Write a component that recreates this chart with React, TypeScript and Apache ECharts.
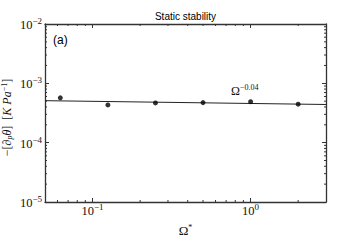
import React, { useEffect, useRef } from "react";
import * as echarts from "echarts";

// Data
const omegaStar = [0.0625, 0.125, 0.25, 0.5, 1, 2];
const stability = [5.7e-4, 4.33e-4, 4.67e-4, 4.73e-4, 4.91e-4, 4.45e-4];
const fitOmega = [0.05, 3];
const fitStability = [5.1e-4, 4.4e-4];
const xRange = [0.05, 3];
const yRange = [1e-5, 1e-2];
const minorMultipliers = [2, 3, 4, 5, 6, 7, 8, 9];
const xDecades = [0.01, 0.1, 1];
const yDecades = [1e-5, 1e-4, 1e-3];
const titleText = "Static stability";
const panelLabel = "(a)";
const fitLabelExp = "−0.04";

const SERIF = "'Liberation Serif', 'DejaVu Serif', serif";
const SANS = "'Liberation Sans', Arial, sans-serif";
const FRAME = "#333";

function isPow10(v: number) {
  const l = Math.log10(v);
  return Math.abs(l - Math.round(l)) < 1e-6;
}
function powLabel(v: number) {
  if (!isPow10(v)) return "";
  const e = Math.round(Math.log10(v));
  return `{b|10}{s|${e < 0 ? "−" + -e : e}}`;
}

const labelRich = {
  b: { fontFamily: SERIF, fontSize: 12.5, lineHeight: 15, verticalAlign: "bottom", color: "#111" },
  s: { fontFamily: SERIF, fontSize: 9, lineHeight: 8, verticalAlign: "top", color: "#111" },
};

export default function App() {
  const ref = useRef<HTMLDivElement>(null);
  useEffect(() => {
    if (!ref.current) return;
    const chart = echarts.init(ref.current, null, { renderer: "svg" });

    const minorX: number[][] = [];
    xDecades.forEach((d) =>
      minorMultipliers.forEach((m) => {
        const v = d * m;
        if (v > xRange[0] && v < xRange[1]) minorX.push([v, 1e-4]);
      })
    );
    const minorY: number[][] = [];
    yDecades.forEach((d) =>
      minorMultipliers.forEach((m) => {
        const v = d * m;
        if (v > yRange[0] && v < yRange[1]) minorY.push([0.3, v]);
      })
    );

    const axisCommon = {
      type: "log" as const,
      logBase: 10,
      axisLine: { show: true, lineStyle: { color: FRAME, width: 1.3 } },
      axisTick: { show: true, inside: true, length: 4, lineStyle: { color: FRAME, width: 1 } },
      splitLine: { show: false },
    };

    const tickStyle = { stroke: FRAME, lineWidth: 1 };

    chart.setOption({
      animation: false,
      backgroundColor: "#fff",
      grid: { left: 45, right: 37, top: 24, bottom: 31, containLabel: false },
      title: {
        text: titleText,
        left: 185.5,
        textAlign: "center",
        top: 11,
        padding: 0,
        textStyle: { fontFamily: SANS, fontSize: 10, fontWeight: "normal", color: "#000" },
      },
      xAxis: [
        {
          ...axisCommon,
          position: "bottom",
          min: xRange[0],
          max: xRange[1],
          axisLabel: {
            margin: 0,
            showMinLabel: false,
            showMaxLabel: false,
            formatter: (v: number) => powLabel(v),
            rich: labelRich,
          },
          name: "{b|Ω}{s|*}",
          nameLocation: "middle",
          nameGap: 21,
          nameTextStyle: {
            rich: {
              b: { fontFamily: SERIF, fontSize: 13, lineHeight: 14, verticalAlign: "bottom", color: "#111" },
              s: { fontFamily: SERIF, fontSize: 8, lineHeight: 8, verticalAlign: "top", color: "#111" },
            },
          },
        },
        {
          ...axisCommon,
          position: "top",
          min: xRange[0],
          max: xRange[1],
          axisLabel: { show: false },
        },
      ],
      yAxis: [
        {
          ...axisCommon,
          position: "left",
          min: yRange[0],
          max: yRange[1],
          axisLabel: {
            margin: 3,
            formatter: (v: number) => powLabel(v),
            rich: labelRich,
          },
        },
        {
          ...axisCommon,
          position: "right",
          min: yRange[0],
          max: yRange[1],
          axisLabel: { show: false },
        },
      ],
      graphic: [
        {
          type: "text",
          x: 53,
          y: 40,
          style: { text: panelLabel, font: `12px ${SANS}`, fill: "#000", align: "left", verticalAlign: "middle" },
        },
        {
          type: "text",
          x: 231,
          y: 90,
          style: {
            text: `{b|Ω}{s|${fitLabelExp}}`,
            align: "left",
            verticalAlign: "middle",
            rich: {
              b: { fontFamily: SERIF, fontSize: 12, lineHeight: 14, verticalAlign: "bottom", fill: "#111" },
              s: { fontFamily: SERIF, fontSize: 8, lineHeight: 8, verticalAlign: "top", fill: "#111" },
            },
          },
        },
        {
          type: "text",
          x: 6.5,
          y: 117.5,
          rotation: Math.PI / 2,
          style: {
            text: "{r|−[}{i|∂}{sub|p}{i|θ}{r|]  [}{i|K Pa}{sup|−1}{r|]}",
            align: "center",
            verticalAlign: "middle",
            rich: {
              r: { fontFamily: SERIF, fontSize: 12, lineHeight: 13, verticalAlign: "middle", fill: "#111" },
              i: { fontFamily: SERIF, fontSize: 12, fontStyle: "italic", lineHeight: 13, verticalAlign: "middle", fill: "#111" },
              sub: { fontFamily: SERIF, fontSize: 8, fontStyle: "italic", lineHeight: 8, verticalAlign: "bottom", fill: "#111" },
              sup: { fontFamily: SERIF, fontSize: 8, lineHeight: 8, verticalAlign: "top", fill: "#111" },
            },
          },
        },
      ],
      series: [
        {
          type: "line",
          xAxisIndex: 0,
          yAxisIndex: 0,
          data: fitOmega.map((x, i) => [x, fitStability[i]]),
          symbol: "none",
          lineStyle: { color: "#222", width: 1 },
          z: 3,
        },
        {
          type: "scatter",
          xAxisIndex: 0,
          yAxisIndex: 0,
          data: omegaStar.map((x, i) => [x, stability[i]]),
          symbol: "circle",
          symbolSize: 5,
          itemStyle: { color: "#000" },
          z: 4,
        },
        {
          type: "custom",
          xAxisIndex: 0,
          yAxisIndex: 0,
          silent: true,
          clip: false,
          data: minorX,
          renderItem: (params: any, api: any) => {
            const cs = params.coordSys;
            const x = api.coord([api.value(0), api.value(1)])[0];
            const b = cs.y + cs.height;
            return {
              type: "group",
              children: [
                { type: "line", shape: { x1: x, y1: b, x2: x, y2: b - 2 }, style: tickStyle },
                { type: "line", shape: { x1: x, y1: cs.y, x2: x, y2: cs.y + 2 }, style: tickStyle },
              ],
            };
          },
          z: 2,
        },
        {
          type: "custom",
          xAxisIndex: 0,
          yAxisIndex: 0,
          silent: true,
          clip: false,
          data: minorY,
          renderItem: (params: any, api: any) => {
            const cs = params.coordSys;
            const y = api.coord([api.value(0), api.value(1)])[1];
            const r = cs.x + cs.width;
            return {
              type: "group",
              children: [
                { type: "line", shape: { x1: cs.x, y1: y, x2: cs.x + 2, y2: y }, style: tickStyle },
                { type: "line", shape: { x1: r, y1: y, x2: r - 2, y2: y }, style: tickStyle },
              ],
            };
          },
          z: 2,
        },
      ],
    });
    return () => chart.dispose();
  }, []);
  return <div ref={ref} style={{ width: 363, height: 242, position: "absolute", left: 0, top: 0 }} />;
}
